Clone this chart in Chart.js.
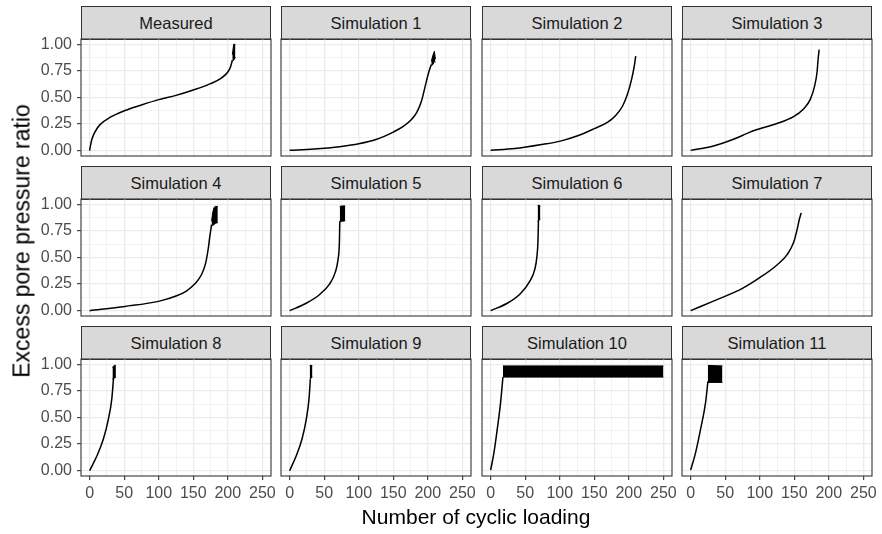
<!DOCTYPE html>
<html><head><meta charset="utf-8">
<script src="https://cdn.jsdelivr.net/npm/chart.js@4.4.1/dist/chart.umd.min.js"></script>
<style>
html,body{margin:0;padding:0;background:#fff;}
#wrap{position:relative;width:882px;height:534px;overflow:hidden;font-family:"Liberation Sans",Arial,sans-serif;background:#fff;}
.strip{position:absolute;background:#D9D9D9;border:1.1px solid #333333;box-sizing:border-box;color:#1A1A1A;font-size:16.5px;display:flex;align-items:center;justify-content:center;}
canvas{position:absolute;}
.xtitle{position:absolute;left:0;width:952px;top:505px;text-align:center;font-size:21px;color:#000;}
.ytitle{position:absolute;left:22px;top:241px;font-size:23px;color:#000;white-space:nowrap;transform:translate(-50%,-50%) rotate(-90deg);}
</style></head>
<body><div id="wrap"></div>
<script>
// ---- data ----
const panelTitles = ["Measured","Simulation 1","Simulation 2","Simulation 3","Simulation 4","Simulation 5","Simulation 6","Simulation 7","Simulation 8","Simulation 9","Simulation 10","Simulation 11"];
const xTicks = [0,50,100,150,200,250];
const yTicks = [0,0.25,0.5,0.75,1];
const xTitle = "Number of cyclic loading";
const yTitle = "Excess pore pressure ratio";

// curves: [cycle, ratio]
const curveMeasured = [[0,0],[1,0.04],[3,0.10],[8,0.18],[15,0.245],[30,0.315],[50,0.375],[75,0.43],[100,0.48],[125,0.52],[150,0.57],[175,0.63],[190,0.68],[200,0.74],[204,0.79],[206.5,0.85]];
const curveSim1 = [[0,0.004],[35,0.015],[75,0.04],[100,0.065],[125,0.105],[150,0.175],[165,0.23],[176,0.29],[184,0.36],[191,0.47],[196,0.6],[201,0.73],[205,0.81]];
const curveSim2 = [[0,0.003],[35,0.02],[76,0.06],[101,0.09],[126,0.14],[151,0.21],[169,0.265],[181,0.33],[191,0.42],[198,0.53],[204,0.67],[208,0.8],[210,0.89]];
const curveSim3 = [[0,0.003],[33,0.044],[62,0.107],[81,0.16],[92,0.19],[125,0.255],[149,0.32],[163,0.39],[173,0.48],[179.5,0.61],[183,0.74],[184.5,0.86],[186,0.95]];
const curveSim4 = [[0,0],[51,0.04],[101,0.09],[126,0.14],[140,0.185],[152,0.25],[162,0.34],[168,0.45],[171.6,0.58],[174,0.7],[176.5,0.81]];
const curveSim5 = [[0,0],[24,0.07],[43,0.15],[57.7,0.25],[66,0.36],[70,0.48],[72,0.64],[72.6,0.84]];
const curveSim6 = [[0,0],[24,0.07],[43,0.16],[57,0.28],[64,0.39],[67,0.51],[68.6,0.67],[69.2,0.85]];
const curveSim7 = [[0,0],[33,0.09],[75,0.21],[100,0.31],[125,0.43],[140,0.53],[149,0.64],[154,0.76],[157,0.85],[160,0.92]];
const curveSim8 = [[0,0],[10.6,0.14],[20,0.3],[27,0.48],[32,0.67],[34.6,0.87]];
const curveSim9 = [[0,0],[9.6,0.14],[18,0.3],[24,0.48],[28,0.67],[30,0.86]];
const curveSim10 = [[0,0.005],[4.8,0.17],[9.6,0.39],[14.4,0.64],[17.8,0.88]];
const curveSim11 = [[0,0.005],[7.2,0.17],[14.4,0.39],[21.6,0.64],[25,0.84]];

// oscillation envelopes: [cycle, lower ratio, upper ratio]
const bandMeasured = [[206.5,0.84,0.90],[208.5,0.85,1.0],[211,0.88,1.0]];
const bandSim1 = [[205,0.80,0.84],[207.5,0.81,0.90],[209.5,0.84,0.935],[211,0.83,0.86]];
const bandSim4 = [[176.5,0.80,0.84],[178,0.80,0.92],[180,0.81,0.97],[182,0.82,0.98],[185.5,0.83,0.98]];
const bandSim5 = [[72.5,0.84,0.98],[76,0.84,0.985],[80.5,0.845,0.985]];
const bandSim6 = [[68,0.84,0.99],[70,0.85,0.99],[72,0.86,0.985]];
const bandSim8 = [[33,0.86,0.97],[35.5,0.87,0.99],[38,0.88,0.99]];
const bandSim9 = [[29,0.86,0.99],[31,0.87,0.99],[33,0.88,0.985]];
const bandSim10 = [[17.8,0.88,0.985],[250,0.88,0.985]];
const bandSim11 = [[25,0.83,0.99],[46,0.83,0.985]];

const curves = [curveMeasured,curveSim1,curveSim2,curveSim3,curveSim4,curveSim5,curveSim6,curveSim7,curveSim8,curveSim9,curveSim10,curveSim11];
const bands = [bandMeasured,bandSim1,null,null,bandSim4,bandSim5,bandSim6,null,bandSim8,bandSim9,bandSim10,bandSim11];

// ---- layout ----
const colLeft = [81,281,482,682];
const pw = 190;
const rowTop = [39,199,359];
const ph = 117;
const stripH = 34;
const padL = 55, padT = 22, padR = 22, padB = 32;

const wrap = document.getElementById('wrap');

const borderPlugin = {
  id:'panelBorder',
  afterDraw(chart){
    const {ctx, chartArea:a} = chart;
    ctx.save();
    ctx.strokeStyle = '#333333';
    ctx.lineWidth = 1.1;
    ctx.strokeRect(a.left, a.top, a.right-a.left, a.bottom-a.top);
    ctx.restore();
  }
};

function mid(arr){ const out=[]; for(let i=0;i<arr.length;i++){ out.push(arr[i]); if(i<arr.length-1) out.push((arr[i]+arr[i+1])/2);} return out; }
const xGrid = mid(xTicks);
const yGrid = mid(yTicks);

panelTitles.forEach((title,i)=>{
  const r = Math.floor(i/4), c = i%4;
  const left = colLeft[c], top = rowTop[r];
  const strip = document.createElement('div');
  strip.className='strip';
  strip.style.left = left+'px'; strip.style.top = (top-stripH+1)+'px';
  strip.style.width = pw+'px'; strip.style.height = stripH+'px';
  strip.textContent = title;
  wrap.appendChild(strip);

  const cv = document.createElement('canvas');
  const W = pw+padL+padR, H = ph+padT+padB;
  cv.width = W; cv.height = H;
  cv.style.width = W+'px'; cv.style.height = H+'px';
  cv.style.left = (left-padL)+'px'; cv.style.top = (top-padT)+'px';
  wrap.appendChild(cv);

  const showY = c===0, showX = r===2;
  const datasets = [{
    data: curves[i].map(p=>({x:p[0],y:p[1]})),
    borderColor:'#000', borderWidth:1.5, pointRadius:0, fill:false,
    cubicInterpolationMode:'monotone'
  }];
  if (bands[i]) {
    datasets.push({data:bands[i].map(p=>({x:p[0],y:p[1]})), borderColor:'#000', borderWidth:1, pointRadius:0, fill:false});
    datasets.push({data:bands[i].map(p=>({x:p[0],y:p[2]})), borderColor:'#000', borderWidth:1, pointRadius:0, fill:'-1', backgroundColor:'#000'});
  }
  new Chart(cv, {
    type:'line',
    data:{datasets},
    options:{
      responsive:false, animation:false, devicePixelRatio:1,
      layout:{padding:{left:0,top:padT,right:padR,bottom:0}},
      plugins:{legend:{display:false}, tooltip:{enabled:false}},
      scales:{
        x:{
          type:'linear', min:-12.5, max:262.5,
          afterBuildTicks:s=>{ s.ticks = xGrid.map(v=>({value:v})); },
          afterFit:s=>{ s.height = padB; },
          border:{display:false},
          grid:{
            color:'#EBEBEB',
            lineWidth:ctx=> (ctx.index%2===0)?1.3:0.65,
            tickColor:ctx=> (showX && ctx.index%2===0)?'#333333':'rgba(0,0,0,0)',
            tickLength:4, tickWidth:1.1, drawTicks:true
          },
          ticks:{
            display:showX, autoSkip:false, maxRotation:0, padding:4,
            color:'#4D4D4D', font:{family:'"Liberation Sans", Arial, sans-serif', size:16},
            callback:(v,idx)=> (idx%2===0)? String(xGrid[idx]) : ''
          }
        },
        y:{
          type:'linear', min:-0.05, max:1.05,
          afterBuildTicks:s=>{ s.ticks = yGrid.map(v=>({value:v})); },
          afterFit:s=>{ s.width = padL; },
          border:{display:false},
          grid:{
            color:'#EBEBEB',
            lineWidth:ctx=> (ctx.index%2===0)?1.3:0.65,
            tickColor:ctx=> (showY && ctx.index%2===0)?'#333333':'rgba(0,0,0,0)',
            tickLength:4, tickWidth:1.1, drawTicks:true
          },
          ticks:{
            display:showY, autoSkip:false, padding:5,
            color:'#4D4D4D', font:{family:'"Liberation Sans", Arial, sans-serif', size:16},
            callback:(v,idx)=> (idx%2===0)? yGrid[idx].toFixed(2) : ''
          }
        }
      }
    },
    plugins:[borderPlugin]
  });
});

const xt = document.createElement('div'); xt.className='xtitle'; xt.textContent=xTitle; wrap.appendChild(xt);
const yt = document.createElement('div'); yt.className='ytitle'; yt.textContent=yTitle; wrap.appendChild(yt);
</script>
</body></html>
